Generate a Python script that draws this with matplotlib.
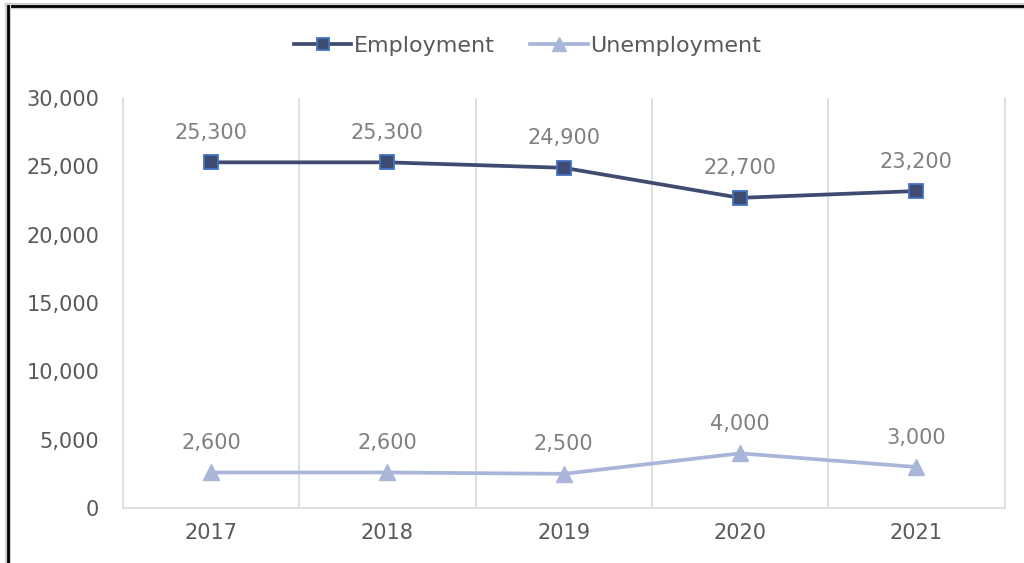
import matplotlib
matplotlib.use('Agg')
import matplotlib.pyplot as plt
from matplotlib.lines import Line2D
from matplotlib.ticker import FuncFormatter

years = ['2017', '2018', '2019', '2020', '2021']
employment = [25300, 25300, 24900, 22700, 23200]
unemployment = [2600, 2600, 2500, 4000, 3000]

tick_color = '#595959'
label_color = '#808080'
emp_color = '#404B72'
emp_edge = '#4472C4'
unemp_color = '#A9B6DA'

plt.rcParams['font.family'] = ['DejaVu Sans']

fig = plt.figure(figsize=(10.24, 5.63), dpi=100)
ax = fig.add_axes([0.120, 0.0977, 0.861, 0.728])

x = list(range(len(years)))
ax.plot(x, employment, color=emp_color, linewidth=2.7, marker='s', markersize=10.5,
        markerfacecolor=emp_color, markeredgecolor=emp_edge, markeredgewidth=1.3,
        label='Employment', zorder=3)
ax.plot(x, unemployment, color=unemp_color, linewidth=2.7, marker='^', markersize=12,
        markerfacecolor=unemp_color, markeredgecolor=unemp_color,
        label='Unemployment', zorder=3)

# value labels above each point
for series in (employment, unemployment):
    for xi, v in zip(x, series):
        ax.annotate(f'{v:,}', (xi, v), xytext=(0, 14), textcoords='offset points',
                    ha='center', va='bottom', fontsize=15, color=label_color)

ax.set_xlim(-0.5, len(years) - 0.5)
ax.set_ylim(0, 30000)
ax.set_yticks(range(0, 30001, 5000))
ax.yaxis.set_major_formatter(FuncFormatter(lambda v, p: f'{int(v):,}'))
ax.set_xticks(x)
ax.set_xticklabels(years)

# vertical separators between categories
for b in [0.5, 1.5, 2.5, 3.5]:
    ax.axvline(b, color='#D9D9D9', linewidth=1.2, zorder=1)

for side in ['left', 'bottom', 'right']:
    ax.spines[side].set_color('#D9D9D9')
    ax.spines[side].set_linewidth(1.2)
ax.spines['top'].set_visible(False)

ax.tick_params(axis='both', length=0, labelsize=15, labelcolor=tick_color)
ax.tick_params(axis='x', pad=11)
ax.tick_params(axis='y', pad=17)

leg = fig.legend(loc='center', bbox_to_anchor=(0.515, 0.918), ncol=2, frameon=False,
                 fontsize=16, handlelength=2.6, columnspacing=1.6, handletextpad=0.1,
                 markerscale=0.85)
for t in leg.get_texts():
    t.set_color(tick_color)

# outer frame lines along the top and left edges
fig.add_artist(Line2D([0.008, 1.0], [0.989, 0.989], color='#D0D0D0', linewidth=4.5))
fig.add_artist(Line2D([0.008, 1.0], [0.989, 0.989], color='black', linewidth=2))
fig.add_artist(Line2D([0.008, 0.008], [0.0, 0.989], color='#D0D0D0', linewidth=4.5))
fig.add_artist(Line2D([0.008, 0.008], [0.0, 0.989], color='black', linewidth=2))

fig.savefig('out.png', dpi=100, facecolor='white')
plt.close(fig)
